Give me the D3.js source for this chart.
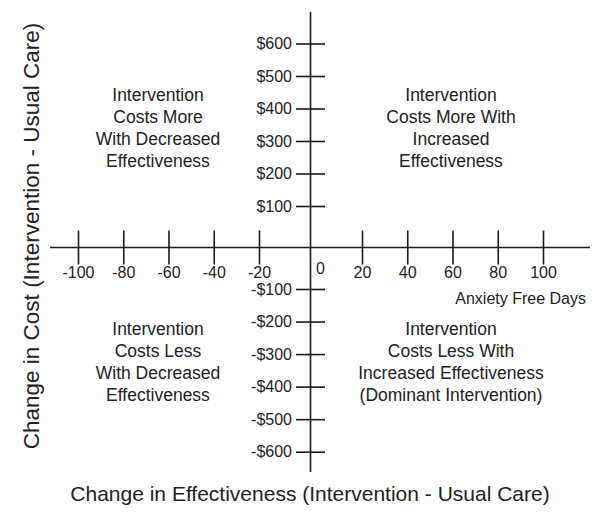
<!DOCTYPE html>
<html>
<head>
<meta charset="utf-8">
<script src="https://cdn.jsdelivr.net/npm/d3@7/dist/d3.min.js"></script>
<style>
  html, body { margin: 0; padding: 0; background: #fff; }
  svg text { font-family: "Liberation Sans", Arial, Helvetica, sans-serif; fill: #222; }
</style>
</head>
<body>
<script>
// ---- data ----
const xTicks = [-100, -80, -60, -40, -20, 20, 40, 60, 80, 100];
const xTickLabels = ["-100", "-80", "-60", "-40", "-20", "20", "40", "60", "80", "100"];
const yTicks = [600, 500, 400, 300, 200, 100, -100, -200, -300, -400, -500, -600];
const yTickLabels = ["$600", "$500", "$400", "$300", "$200", "$100", "-$100", "-$200", "-$300", "-$400", "-$500", "-$600"];
const originLabel = "0";
const xUnitLabel = "Anxiety Free Days";
const xTitle = "Change in Effectiveness (Intervention - Usual Care)";
const yTitle = "Change in Cost (Intervention - Usual Care)";
const quadTopLeft = ["Intervention", "Costs More", "With Decreased", "Effectiveness"];
const quadTopRight = ["Intervention", "Costs More With", "Increased", "Effectiveness"];
const quadBottomLeft = ["Intervention", "Costs Less", "With Decreased", "Effectiveness"];
const quadBottomRight = ["Intervention", "Costs Less With", "Increased Effectiveness", "(Dominant Intervention)"];
const quadrants = [
  {lines: quadTopLeft, side: "left", half: "top"},
  {lines: quadTopRight, side: "right", half: "top"},
  {lines: quadBottomLeft, side: "left", half: "bottom"},
  {lines: quadBottomRight, side: "right", half: "bottom"}
];

const W = 600, H = 513;
const svg = d3.select("body").append("svg").attr("width", W).attr("height", H);

const x = d3.scaleLinear().domain([-100, -20, 0, 20, 100]).range([78, 259, 310.5, 362, 543]);
const y = d3.scaleLinear().domain([-600, -100, 0, 100, 600]).range([451.7, 289, 247.5, 206, 43.5]);

const stroke = "#1a1a1a";
const x0 = x(0), y0 = y(0);

// main axis lines
svg.append("line").attr("x1", 50).attr("x2", 590).attr("y1", y0).attr("y2", y0)
  .attr("stroke", stroke).attr("stroke-width", 1.6);
svg.append("line").attr("x1", x0).attr("x2", x0).attr("y1", 12).attr("y2", 472)
  .attr("stroke", stroke).attr("stroke-width", 1.6);

// x axis (ticks crossing the line)
const xAxis = d3.axisBottom(x).tickValues(xTicks)
  .tickFormat((d, i) => xTickLabels[i]).tickSize(17).tickPadding(2);
const gx = svg.append("g").attr("transform", `translate(0,${y0})`).call(xAxis);
gx.select(".domain").remove();
gx.selectAll(".tick line").attr("y1", -17).attr("y2", 17).attr("stroke", stroke).attr("stroke-width", 1.6);
gx.selectAll(".tick text").attr("font-size", 16).attr("fill", "#222");

// y axis
const yAxis = d3.axisLeft(y).tickValues(yTicks)
  .tickFormat((d, i) => yTickLabels[i]).tickSize(14).tickPadding(4.5);
const gy = svg.append("g").attr("transform", `translate(${x0},0)`).call(yAxis);
gy.select(".domain").remove();
gy.selectAll(".tick line").attr("x1", -14.5).attr("x2", 14.5).attr("stroke", stroke).attr("stroke-width", 1.6);
gy.selectAll(".tick text").attr("font-size", 16).attr("fill", "#222");
gx.selectAll("text").attr("font-family", '"Liberation Sans", Arial, sans-serif');
gy.selectAll("text").attr("font-family", '"Liberation Sans", Arial, sans-serif');

// origin label
svg.append("text").attr("x", x0 + 10).attr("y", y0 + 26).attr("text-anchor", "middle")
  .attr("font-size", 16).text(originLabel);

// unit label
svg.append("text").attr("x", 586).attr("y", y0 + 56).attr("text-anchor", "end")
  .attr("font-size", 16).text(xUnitLabel);

// quadrant labels
quadrants.forEach(q => {
  const t = svg.append("text").attr("text-anchor", "middle").attr("font-size", 17.5);
  t.selectAll("tspan").data(q.lines).join("tspan")
    .attr("x", q.side === "left" ? 158 : 451)
    .attr("y", (d, i) => (q.half === "top" ? 100.5 : 334.5) + i * 22.3)
    .text(d => d);
});

// axis titles
svg.append("text").attr("x", 310).attr("y", 501).attr("text-anchor", "middle")
  .attr("font-size", 21).text(xTitle);
svg.append("text").attr("transform", "translate(39,236) rotate(-90)").attr("text-anchor", "middle")
  .attr("font-size", 22.5).text(yTitle);
</script>
</body>
</html>
